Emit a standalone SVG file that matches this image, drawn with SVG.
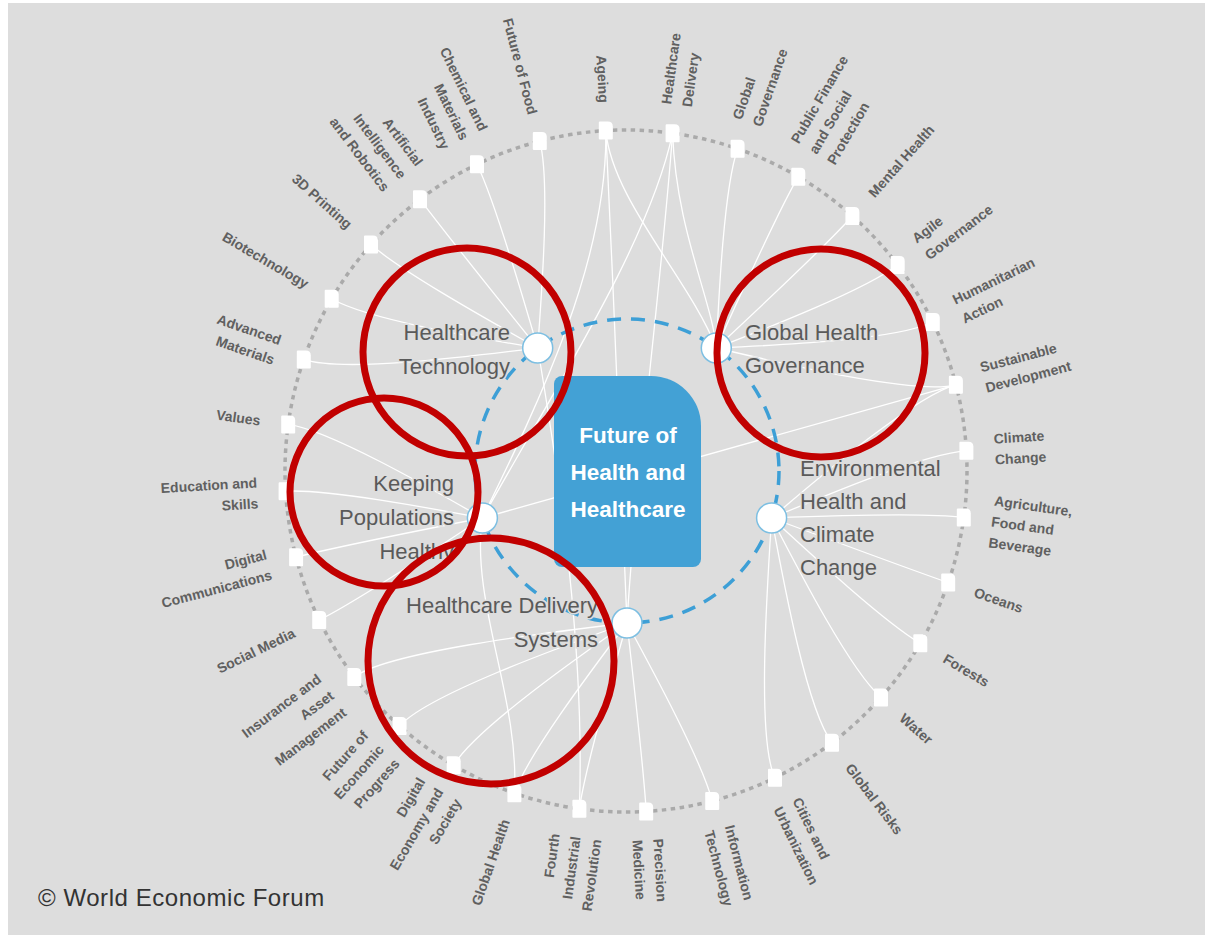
<svg xmlns="http://www.w3.org/2000/svg" width="1210" height="940" viewBox="0 0 1210 940">
<style>
.lbl{font-family:"Liberation Sans",Arial,sans-serif;font-size:14px;font-weight:bold;fill:#606060}
.r{text-anchor:start}.l{text-anchor:end}
.hub{font-family:"Liberation Sans",Arial,sans-serif;font-size:22px;fill:#5a5a5a;stroke:#dddddd;stroke-width:3;paint-order:stroke}
.ctr{font-family:"Liberation Sans",Arial,sans-serif;font-size:22.5px;font-weight:bold;fill:#ffffff;text-anchor:middle}
.hubc{fill:#ffffff;stroke:#7dbfe2;stroke-width:1.5}
.red{fill:none;stroke:#c10000;stroke-width:7}
#links path{fill:none;stroke:#ffffff;stroke-width:1.3}
</style>
<defs>
<path id="nd" d="M-7,-8 Q-7,-9 -6,-9 H2 Q7,-9 7,-4 V8 Q7,9 6,9 H-6 Q-7,9 -7,8 Z" fill="#ffffff"/>
</defs>
<rect x="0" y="0" width="1210" height="940" fill="#ffffff"/>
<rect x="8" y="3" width="1197" height="932" fill="#dddddd"/>
<circle cx="626" cy="471" r="341" fill="none" stroke="#aaaaaa" stroke-width="3.5" stroke-dasharray="4.5 4.5"/>
<g id="links">
<path d="M539.8,141.1 C550.1,180.7 542,289.4 537.7,348"/>
<path d="M477,164.2 C495,201.1 522.8,296.6 537.7,348"/>
<path d="M420,199.3 C444.8,231.9 505.3,307.8 537.7,348"/>
<path d="M371,244.6 C401.7,271.8 490.1,321.1 537.7,348"/>
<path d="M331.7,298.7 C367.1,319.4 478,338 537.7,348"/>
<path d="M303.8,359.4 C342.5,372.8 469.3,356.6 537.7,348"/>
<path d="M537.7,348 C560,480 585,650 579.4,808.8"/>
<path d="M737.6,148.8 C724.2,187.5 719,291.8 716.3,348"/>
<path d="M798.3,176.7 C777.6,212.1 737.8,300.5 716.3,348"/>
<path d="M852.4,216 C825.2,246.7 754.4,312.5 716.3,348"/>
<path d="M897.7,265 C865.1,289.8 768.4,327.6 716.3,348"/>
<path d="M932.8,322 C895.9,340 779.2,345.2 716.3,348"/>
<path d="M955.9,384.8 C916.3,395.1 786.3,364.5 716.3,348"/>
<path d="M605.8,130.6 C612,200 690,280 716.3,348"/>
<path d="M672.6,133.2 C676,230 712,300 716.3,348"/>
<path d="M288.2,424.4 C328.8,430 428.6,487.2 482.4,518"/>
<path d="M285.6,491.2 C326.5,488.8 428.2,507.8 482.4,518"/>
<path d="M296.1,557.2 C335.7,546.9 431,528.1 482.4,518"/>
<path d="M319.2,620 C356.1,602 438.2,547.4 482.4,518"/>
<path d="M955.9,384.8 L482.4,518"/>
<path d="M605.8,130.6 C608,260 540,400 482.4,518"/>
<path d="M672.6,133.2 C650,240 560,380 482.4,518"/>
<path d="M482.4,518 C470,600 520,700 514.4,793.2"/>
<path d="M955.9,384.8 C916.3,395.1 822,474.9 771.6,518"/>
<path d="M966.4,450.8 C925.5,453.2 825.5,495.3 771.6,518"/>
<path d="M963.8,517.6 C923.2,512 824.7,515.9 771.6,518"/>
<path d="M948.2,582.6 C909.5,569.2 819.9,535.9 771.6,518"/>
<path d="M920.3,643.3 C884.9,622.6 811.3,554.6 771.6,518"/>
<path d="M881,697.4 C850.3,670.2 799.1,571.3 771.6,518"/>
<path d="M832,742.7 C807.2,710.1 784.1,585.2 771.6,518"/>
<path d="M775,777.8 C757,741 766.5,596 771.6,518"/>
<path d="M354.3,677 C386.9,652.2 542.5,633.1 627,623"/>
<path d="M399.6,726 C426.8,695.3 556.9,648.3 627,623"/>
<path d="M453.7,765.3 C474.4,729.9 573.2,660.3 627,623"/>
<path d="M514.4,793.2 C527.8,754.5 592.1,669.4 627,623"/>
<path d="M579.4,808.8 C585,768.2 612.3,673.7 627,623"/>
<path d="M646.2,811.4 C643.8,770.5 632.9,674.7 627,623"/>
<path d="M712.2,800.9 C701.9,761.3 653.2,671.3 627,623"/>
<path d="M605.8,130.6 C614,300 622,500 627,623"/>
<path d="M672.6,133.2 C660,300 635,480 627,623"/>
</g>
<circle cx="627" cy="471" r="152" fill="none" stroke="#3d9fd6" stroke-width="3.5" stroke-dasharray="14 10"/>
<g id="outer">
<g id="n-ageing"><use href="#nd" x="605.8" y="130.6"/><text class="lbl l" transform="translate(626 471) rotate(86.6) translate(-369 0)"><tspan x="0" y="5">Ageing</tspan></text></g>
<g id="n-healthcare-delivery"><use href="#nd" x="672.6" y="133.2"/><text class="lbl r" transform="translate(626 471) rotate(-82.15) translate(369 0)"><tspan x="0" y="-5.5">Healthcare</tspan><tspan x="0" y="15.5">Delivery</tspan></text></g>
<g id="n-global-governance"><use href="#nd" x="737.6" y="148.8"/><text class="lbl r" transform="translate(626 471) rotate(-70.9) translate(369 0)"><tspan x="0" y="-5.5">Global</tspan><tspan x="0" y="15.5">Governance</tspan></text></g>
<g id="n-public-finance"><use href="#nd" x="798.3" y="176.7"/><text class="lbl r" transform="translate(626 471) rotate(-59.65) translate(369 0)"><tspan x="0" y="-16">Public Finance</tspan><tspan x="0" y="5">and Social</tspan><tspan x="0" y="26">Protection</tspan></text></g>
<g id="n-mental-health"><use href="#nd" x="852.4" y="216"/><text class="lbl r" transform="translate(626 471) rotate(-48.4) translate(369 0)"><tspan x="0" y="5">Mental Health</tspan></text></g>
<g id="n-agile-governance"><use href="#nd" x="897.7" y="265"/><text class="lbl r" transform="translate(626 471) rotate(-37.15) translate(369 0)"><tspan x="0" y="-5.5">Agile</tspan><tspan x="0" y="15.5">Governance</tspan></text></g>
<g id="n-humanitarian-action"><use href="#nd" x="932.8" y="322"/><text class="lbl r" transform="translate(626 471) rotate(-25.9) translate(369 0)"><tspan x="0" y="-5.5">Humanitarian</tspan><tspan x="0" y="15.5">Action</tspan></text></g>
<g id="n-sustainable-development"><use href="#nd" x="955.9" y="384.8"/><text class="lbl r" transform="translate(626 471) rotate(-14.65) translate(369 0)"><tspan x="0" y="-5.5">Sustainable</tspan><tspan x="0" y="15.5">Development</tspan></text></g>
<g id="n-climate-change"><use href="#nd" x="966.4" y="450.8"/><text class="lbl r" transform="translate(626 471) rotate(-3.4) translate(369 0)"><tspan x="0" y="-5.5">Climate</tspan><tspan x="0" y="15.5">Change</tspan></text></g>
<g id="n-agriculture"><use href="#nd" x="963.8" y="517.6"/><text class="lbl r" transform="translate(626 471) rotate(7.85) translate(369 0)"><tspan x="0" y="-16">Agriculture,</tspan><tspan x="0" y="5">Food and</tspan><tspan x="0" y="26">Beverage</tspan></text></g>
<g id="n-oceans"><use href="#nd" x="948.2" y="582.6"/><text class="lbl r" transform="translate(626 471) rotate(19.1) translate(369 0)"><tspan x="0" y="5">Oceans</tspan></text></g>
<g id="n-forests"><use href="#nd" x="920.3" y="643.3"/><text class="lbl r" transform="translate(626 471) rotate(30.35) translate(369 0)"><tspan x="0" y="5">Forests</tspan></text></g>
<g id="n-water"><use href="#nd" x="881" y="697.4"/><text class="lbl r" transform="translate(626 471) rotate(41.6) translate(369 0)"><tspan x="0" y="5">Water</tspan></text></g>
<g id="n-global-risks"><use href="#nd" x="832" y="742.7"/><text class="lbl r" transform="translate(626 471) rotate(52.85) translate(369 0)"><tspan x="0" y="5">Global Risks</tspan></text></g>
<g id="n-cities"><use href="#nd" x="775" y="777.8"/><text class="lbl r" transform="translate(626 471) rotate(64.1) translate(369 0)"><tspan x="0" y="-5.5">Cities and</tspan><tspan x="0" y="15.5">Urbanization</tspan></text></g>
<g id="n-information-technology"><use href="#nd" x="712.2" y="800.9"/><text class="lbl r" transform="translate(626 471) rotate(75.35) translate(369 0)"><tspan x="0" y="-5.5">Information</tspan><tspan x="0" y="15.5">Technology</tspan></text></g>
<g id="n-precision-medicine"><use href="#nd" x="646.2" y="811.4"/><text class="lbl r" transform="translate(626 471) rotate(86.6) translate(369 0)"><tspan x="0" y="-5.5">Precision</tspan><tspan x="0" y="15.5">Medicine</tspan></text></g>
<g id="n-fourth-ir"><use href="#nd" x="579.4" y="808.8"/><text class="lbl l" transform="translate(626 471) rotate(-82.15) translate(-369 0)"><tspan x="0" y="-16">Fourth</tspan><tspan x="0" y="5">Industrial</tspan><tspan x="0" y="26">Revolution</tspan></text></g>
<g id="n-global-health"><use href="#nd" x="514.4" y="793.2"/><text class="lbl l" transform="translate(626 471) rotate(-70.9) translate(-369 0)"><tspan x="0" y="5">Global Health</tspan></text></g>
<g id="n-digital-economy"><use href="#nd" x="453.7" y="765.3"/><text class="lbl l" transform="translate(626 471) rotate(-59.65) translate(-369 0)"><tspan x="0" y="-16">Digital</tspan><tspan x="0" y="5">Economy and</tspan><tspan x="0" y="26">Society</tspan></text></g>
<g id="n-future-economic-progress"><use href="#nd" x="399.6" y="726"/><text class="lbl l" transform="translate(626 471) rotate(-48.4) translate(-369 0)"><tspan x="0" y="-16">Future of</tspan><tspan x="0" y="5">Economic</tspan><tspan x="0" y="26">Progress</tspan></text></g>
<g id="n-insurance"><use href="#nd" x="354.3" y="677"/><text class="lbl l" transform="translate(626 471) rotate(-37.15) translate(-369 0)"><tspan x="0" y="-16">Insurance and</tspan><tspan x="0" y="5">Asset</tspan><tspan x="0" y="26">Management</tspan></text></g>
<g id="n-social-media"><use href="#nd" x="319.2" y="620"/><text class="lbl l" transform="translate(626 471) rotate(-25.9) translate(-369 0)"><tspan x="0" y="5">Social Media</tspan></text></g>
<g id="n-digital-communications"><use href="#nd" x="296.1" y="557.2"/><text class="lbl l" transform="translate(626 471) rotate(-14.65) translate(-369 0)"><tspan x="0" y="-5.5">Digital</tspan><tspan x="0" y="15.5">Communications</tspan></text></g>
<g id="n-education"><use href="#nd" x="285.6" y="491.2"/><text class="lbl l" transform="translate(626 471) rotate(-3.4) translate(-369 0)"><tspan x="0" y="-5.5">Education and</tspan><tspan x="0" y="15.5">Skills</tspan></text></g>
<g id="n-values"><use href="#nd" x="288.2" y="424.4"/><text class="lbl l" transform="translate(626 471) rotate(7.85) translate(-369 0)"><tspan x="0" y="5">Values</tspan></text></g>
<g id="n-advanced-materials"><use href="#nd" x="303.8" y="359.4"/><text class="lbl l" transform="translate(626 471) rotate(19.1) translate(-369 0)"><tspan x="0" y="-5.5">Advanced</tspan><tspan x="0" y="15.5">Materials</tspan></text></g>
<g id="n-biotechnology"><use href="#nd" x="331.7" y="298.7"/><text class="lbl l" transform="translate(626 471) rotate(30.35) translate(-369 0)"><tspan x="0" y="5">Biotechnology</tspan></text></g>
<g id="n-3d-printing"><use href="#nd" x="371" y="244.6"/><text class="lbl l" transform="translate(626 471) rotate(41.6) translate(-369 0)"><tspan x="0" y="5">3D Printing</tspan></text></g>
<g id="n-ai-robotics"><use href="#nd" x="420" y="199.3"/><text class="lbl l" transform="translate(626 471) rotate(52.85) translate(-369 0)"><tspan x="0" y="-16">Artificial</tspan><tspan x="0" y="5">Intelligence</tspan><tspan x="0" y="26">and Robotics</tspan></text></g>
<g id="n-chemical"><use href="#nd" x="477" y="164.2"/><text class="lbl l" transform="translate(626 471) rotate(64.1) translate(-369 0)"><tspan x="0" y="-16">Chemical and</tspan><tspan x="0" y="5">Materials</tspan><tspan x="0" y="26">Industry</tspan></text></g>
<g id="n-future-of-food"><use href="#nd" x="539.8" y="141.1"/><text class="lbl l" transform="translate(626 471) rotate(75.35) translate(-369 0)"><tspan x="0" y="5">Future of Food</tspan></text></g>
</g>
<g id="hub-healthcare-technology"><text class="hub" text-anchor="end"><tspan x="510" y="340">Healthcare</tspan><tspan x="510" y="374">Technology</tspan></text><circle class="hubc" cx="537.7" cy="348" r="15"/></g>
<g id="hub-global-health-governance"><text class="hub" text-anchor="start"><tspan x="745" y="340">Global Health</tspan><tspan x="745" y="373">Governance</tspan></text><circle class="hubc" cx="716.3" cy="348" r="15"/></g>
<g id="hub-keeping-populations-healthy"><text class="hub" text-anchor="end"><tspan x="454" y="491">Keeping</tspan><tspan x="454" y="525">Populations</tspan><tspan x="454" y="559">Healthy</tspan></text><circle class="hubc" cx="482.4" cy="518" r="15"/></g>
<g id="hub-environmental-health"><text class="hub" text-anchor="start"><tspan x="800" y="476">Environmental</tspan><tspan x="800" y="509">Health and</tspan><tspan x="800" y="542">Climate</tspan><tspan x="800" y="575">Change</tspan></text><circle class="hubc" cx="771.6" cy="518" r="15"/></g>
<g id="hub-healthcare-delivery-systems"><text class="hub" text-anchor="end"><tspan x="598" y="613">Healthcare Delivery</tspan><tspan x="598" y="647">Systems</tspan></text><circle class="hubc" cx="627" cy="623" r="15"/></g>
<g id="center">
<path d="M562,376 H651 A50,50 0 0 1 701,426 V559 A8,8 0 0 1 693,567 H562 A8,8 0 0 1 554,559 V384 A8,8 0 0 1 562,376 Z" fill="#43a1d5"/>
<text class="ctr"><tspan x="628" y="443">Future of</tspan><tspan x="628" y="480">Health and</tspan><tspan x="628" y="517">Healthcare</tspan></text>
</g>
<g id="annotations">
<circle class="red" cx="467" cy="352" r="104"/>
<circle class="red" cx="821" cy="353" r="104"/>
<circle class="red" cx="384" cy="492" r="94"/>
<circle class="red" cx="491" cy="661" r="123"/>
</g>
<text x="38" y="906" font-family="Liberation Sans, Arial, sans-serif" font-size="24" letter-spacing="0.55" fill="#333333">© World Economic Forum</text>
</svg>
